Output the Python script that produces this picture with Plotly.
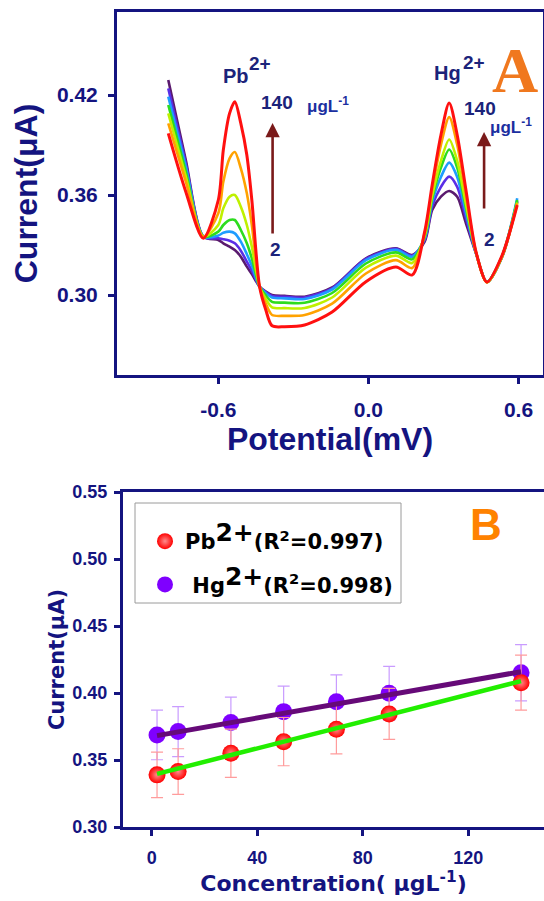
import plotly.graph_objects as go

# ---------------- Panel A data (DPV curves) ----------------
potential = [-0.80, -0.73, -0.66, -0.60, -0.58, -0.555, -0.534, -0.51, -0.486, -0.466,
             -0.435, -0.41, -0.385, -0.335, -0.255, -0.145, -0.01, 0.11, 0.175, 0.225,
             0.255, 0.29, 0.323, 0.355, 0.39, 0.43, 0.474, 0.535, 0.595]

cur_2 = [0.429, 0.381, 0.335, 0.333, 0.331, 0.329, 0.327, 0.323, 0.317, 0.3126,
         0.305, 0.302, 0.300, 0.2995, 0.299, 0.3045, 0.322, 0.328, 0.324, 0.332,
         0.351, 0.359, 0.3624, 0.359, 0.343, 0.325, 0.3078, 0.323, 0.356]
cur_10 = [0.424, 0.379, 0.335, 0.334, 0.3335, 0.3326, 0.331, 0.3266, 0.320, 0.3146,
          0.305, 0.3017, 0.2994, 0.2989, 0.2985, 0.304, 0.3216, 0.3277, 0.3236, 0.333,
          0.3534, 0.3649, 0.371, 0.3649, 0.3462, 0.3252, 0.3078, 0.3233, 0.3565]
cur_30 = [0.419, 0.377, 0.335, 0.3357, 0.3373, 0.338, 0.337, 0.332, 0.3245, 0.3176,
          0.305, 0.3011, 0.2985, 0.298, 0.2976, 0.3033, 0.3209, 0.3271, 0.323, 0.3339,
          0.3558, 0.3708, 0.3794, 0.3708, 0.3494, 0.3253, 0.3079, 0.3236, 0.358]
cur_50 = [0.414, 0.374, 0.335, 0.338, 0.342, 0.345, 0.345, 0.339, 0.331, 0.322,
          0.305, 0.2996, 0.2959, 0.2954, 0.2953, 0.3012, 0.3189, 0.3256, 0.3214, 0.3348,
          0.358, 0.3764, 0.3873, 0.3764, 0.3524, 0.3255, 0.3077, 0.3234, 0.357]
cur_70 = [0.409, 0.371, 0.335, 0.342, 0.352, 0.359, 0.360, 0.353, 0.342, 0.329,
          0.305, 0.2976, 0.2926, 0.2921, 0.2922, 0.2985, 0.3164, 0.3236, 0.3192, 0.3355,
          0.3597, 0.3805, 0.3933, 0.3805, 0.3546, 0.3256, 0.3076, 0.3232, 0.3555]
cur_90 = [0.403, 0.368, 0.335, 0.349, 0.368, 0.382, 0.3858, 0.376, 0.361, 0.342,
          0.305, 0.2948, 0.288, 0.2875, 0.288, 0.2948, 0.3129, 0.3209, 0.3162, 0.337,
          0.3636, 0.3901, 0.4067, 0.3901, 0.3598, 0.3258, 0.3075, 0.3235, 0.355]
cur_140 = [0.397, 0.362, 0.334, 0.357, 0.387, 0.409, 0.416, 0.403, 0.384, 0.357,
           0.305, 0.291, 0.2815, 0.281, 0.282, 0.2898, 0.308, 0.3168, 0.312, 0.338,
           0.366, 0.396, 0.4152, 0.396, 0.363, 0.326, 0.3078, 0.324, 0.354]

curve_sets = [cur_2, cur_10, cur_30, cur_50, cur_70, cur_90, cur_140]
curve_colors = ["#5a1a6e", "#5a2ee6", "#1e9cff", "#2ddc1e", "#bff000", "#ffa200", "#ff1010"]

# ---------------- Panel B data (calibration) ----------------
conc = [2, 10, 30, 50, 70, 90, 140]
pb_current = [0.3389, 0.3414, 0.3551, 0.3637, 0.3730, 0.3844, 0.4077]
pb_err = [0.017, 0.017, 0.018, 0.018, 0.0185, 0.019, 0.0205]
hg_current = [0.3687, 0.3712, 0.3779, 0.3861, 0.3935, 0.3998, 0.4151]
hg_err = [0.0185, 0.0187, 0.019, 0.019, 0.020, 0.020, 0.021]
fit_conc = [2, 140]
pb_fit = [0.3396, 0.4089]
hg_fit = [0.3682, 0.4159]

NAVY = "#141480"
FONT = "Liberation Sans, Arial, sans-serif"
LFONT = "DejaVu Sans, Liberation Sans, sans-serif"
W, H = 544, 901


def px(x):
    return x / W


def py(y):
    return 1 - y / H


fig = go.Figure()

for vals, col in zip(curve_sets, curve_colors):
    fig.add_trace(go.Scatter(
        x=potential, y=vals, mode="lines",
        line=dict(color=col, width=3 if col == "#ff1010" else 2.6, shape="spline", smoothing=0.8),
        xaxis="x", yaxis="y", showlegend=False, hoverinfo="skip"))

BIG = "<span style='font-size:25px;baseline-shift:32%'>2+</span>"

# Panel B markers
fig.add_trace(go.Scatter(
    x=conc, y=hg_current, mode="markers",
    name="&nbsp;Hg" + BIG + "(R<sup>2</sup>=0.998)",
    marker=dict(color="#7f00ff", size=17, line=dict(width=0)),
    error_y=dict(type="data", array=hg_err, color="#c99cff", thickness=1.2, width=6),
    xaxis="x2", yaxis="y2", showlegend=True, legendrank=2, legendgroup="hg"))
fig.add_trace(go.Scatter(
    x=conc, y=pb_current, mode="markers",
    name="Pb" + BIG + "(R<sup>2</sup>=0.997)",
    marker=dict(color="#ff0000", size=17, line=dict(width=0),
                gradient=dict(type="radial", color="#ff8c8c")),
    error_y=dict(type="data", array=pb_err, color="#ff9c9c", thickness=1.2, width=6),
    xaxis="x2", yaxis="y2", showlegend=True, legendrank=1, legendgroup="pb"))

# Fit lines
fig.add_trace(go.Scatter(x=fit_conc, y=hg_fit, mode="lines",
                         line=dict(color="#660a78", width=5), xaxis="x2", yaxis="y2",
                         showlegend=False, hoverinfo="skip"))
fig.add_trace(go.Scatter(x=fit_conc, y=pb_fit, mode="lines",
                         line=dict(color="#22ee00", width=4.5), xaxis="x2", yaxis="y2",
                         showlegend=False, hoverinfo="skip"))

axis_common = dict(showgrid=False, zeroline=False, showline=True, linecolor=NAVY, linewidth=3,
                   ticks="outside", tickcolor=NAVY, tickwidth=3, automargin=False)

fig.update_layout(
    width=W, height=H, margin=dict(l=0, r=0, t=0, b=0, pad=0, autoexpand=False),
    paper_bgcolor="white", plot_bgcolor="white",
    font=dict(family=FONT, color=NAVY),
    xaxis=dict(domain=[px(117), px(543)], range=[-1.005, 0.698], anchor="y", mirror=True,
               tickvals=[-0.6, 0.0, 0.6], ticktext=["-0.6", "0.0", "0.6"], ticklen=6,
               ticklabelstandoff=8,
               tickfont=dict(size=21, color=NAVY, family=FONT, weight="bold"),
               title=dict(text="Potential(mV)", standoff=4,
                          font=dict(size=32, color=NAVY, family=FONT, weight="bold")),
               **axis_common),
    yaxis=dict(domain=[py(375), py(12)], range=[0.252, 0.4698], anchor="x", mirror=True,
               tickvals=[0.30, 0.36, 0.42], ticktext=["0.30", "0.36", "0.42"], ticklen=6,
               ticklabelstandoff=6,
               tickfont=dict(size=21, color=NAVY, family=FONT, weight="bold"),
               title=dict(text="Current(μA)", standoff=10,
                          font=dict(size=32, color=NAVY, family=FONT, weight="bold")),
               **axis_common),
    xaxis2=dict(domain=[px(123), 1.0], range=[-10.9, 148.7], anchor="y2", mirror=True,
                tickvals=[0, 40, 80, 120], ticktext=["0", "40", "80", "120"], ticklen=6,
                ticklabelstandoff=6,
                tickfont=dict(size=18, color=NAVY, family=FONT, weight="bold"),
                title=dict(text="Concentration( μgL<sup>-1</sup>)", standoff=10,
                           font=dict(size=22, color=NAVY, family=LFONT, weight="bold")),
                **axis_common),
    yaxis2=dict(domain=[py(827), py(492)], range=[0.30, 0.55], anchor="x2", mirror=False,
                tickvals=[0.30, 0.35, 0.40, 0.45, 0.50, 0.55],
                ticktext=["0.30", "0.35", "0.40", "0.45", "0.50", "0.55"], ticklen=6,
                ticklabelstandoff=3,
                tickfont=dict(size=18, color=NAVY, family=FONT, weight="bold"),
                title=dict(text="Current(μA)", standoff=3,
                           font=dict(size=21, color=NAVY, family=LFONT, weight="bold")),
                **axis_common),
    legend=dict(x=px(145), y=py(521), xanchor="left", yanchor="top",
                borderwidth=0, bgcolor="rgba(0,0,0,0)",
                font=dict(size=21, color="black", family=LFONT, weight="bold"),
                traceorder="grouped", tracegroupgap=13, itemwidth=30),
)

# legend frame
fig.add_shape(type="rect", xref="paper", yref="paper",
              x0=px(135), x1=px(401), y0=py(603), y1=py(503),
              line=dict(color="#9a9a9a", width=1), fillcolor="rgba(0,0,0,0)", layer="below")


def label(text, x, y, size, color=NAVY, family=FONT, weight="bold"):
    fig.add_annotation(text=text, x=px(x), y=py(y), xref="paper", yref="paper",
                       showarrow=False, xanchor="center", yanchor="middle",
                       font=dict(size=size, color=color, family=family, weight=weight))


label("Pb", 236, 76, 20, "#1b237a")
label("2+", 260, 63, 19, "#1b237a")
label("140", 277, 103, 19, "#1b237a")
label("μgL<sup>-1</sup>", 328, 105, 17, "#1b2fa0")
label("2", 275, 250, 19, "#1b237a")
label("Hg", 447, 73, 20, "#1b237a")
label("2+", 474, 62, 19, "#1b237a")
label("140", 480, 108, 19, "#1b237a")
label("μgL<sup>-1</sup>", 511, 126, 17, "#1b2fa0")
label("2", 489, 240, 19, "#1b237a")
label("A", 515, 70, 64, "#f0781e", "Liberation Serif, Times New Roman, serif")
label("B", 486, 524, 44, "#ff8200")

# Arrows (data coords of panel A)
for xh, yh, yt in [(-0.383, 0.4032, 0.336), (0.4625, 0.3978, 0.351)]:
    fig.add_annotation(x=xh, y=yh, ax=xh, ay=yt, xref="x", yref="y", axref="x", ayref="y",
                       text="", showarrow=True, arrowhead=2, arrowsize=1.1, arrowwidth=2.6,
                       arrowcolor="#7a1a1a")

fig.write_html("out.html")
